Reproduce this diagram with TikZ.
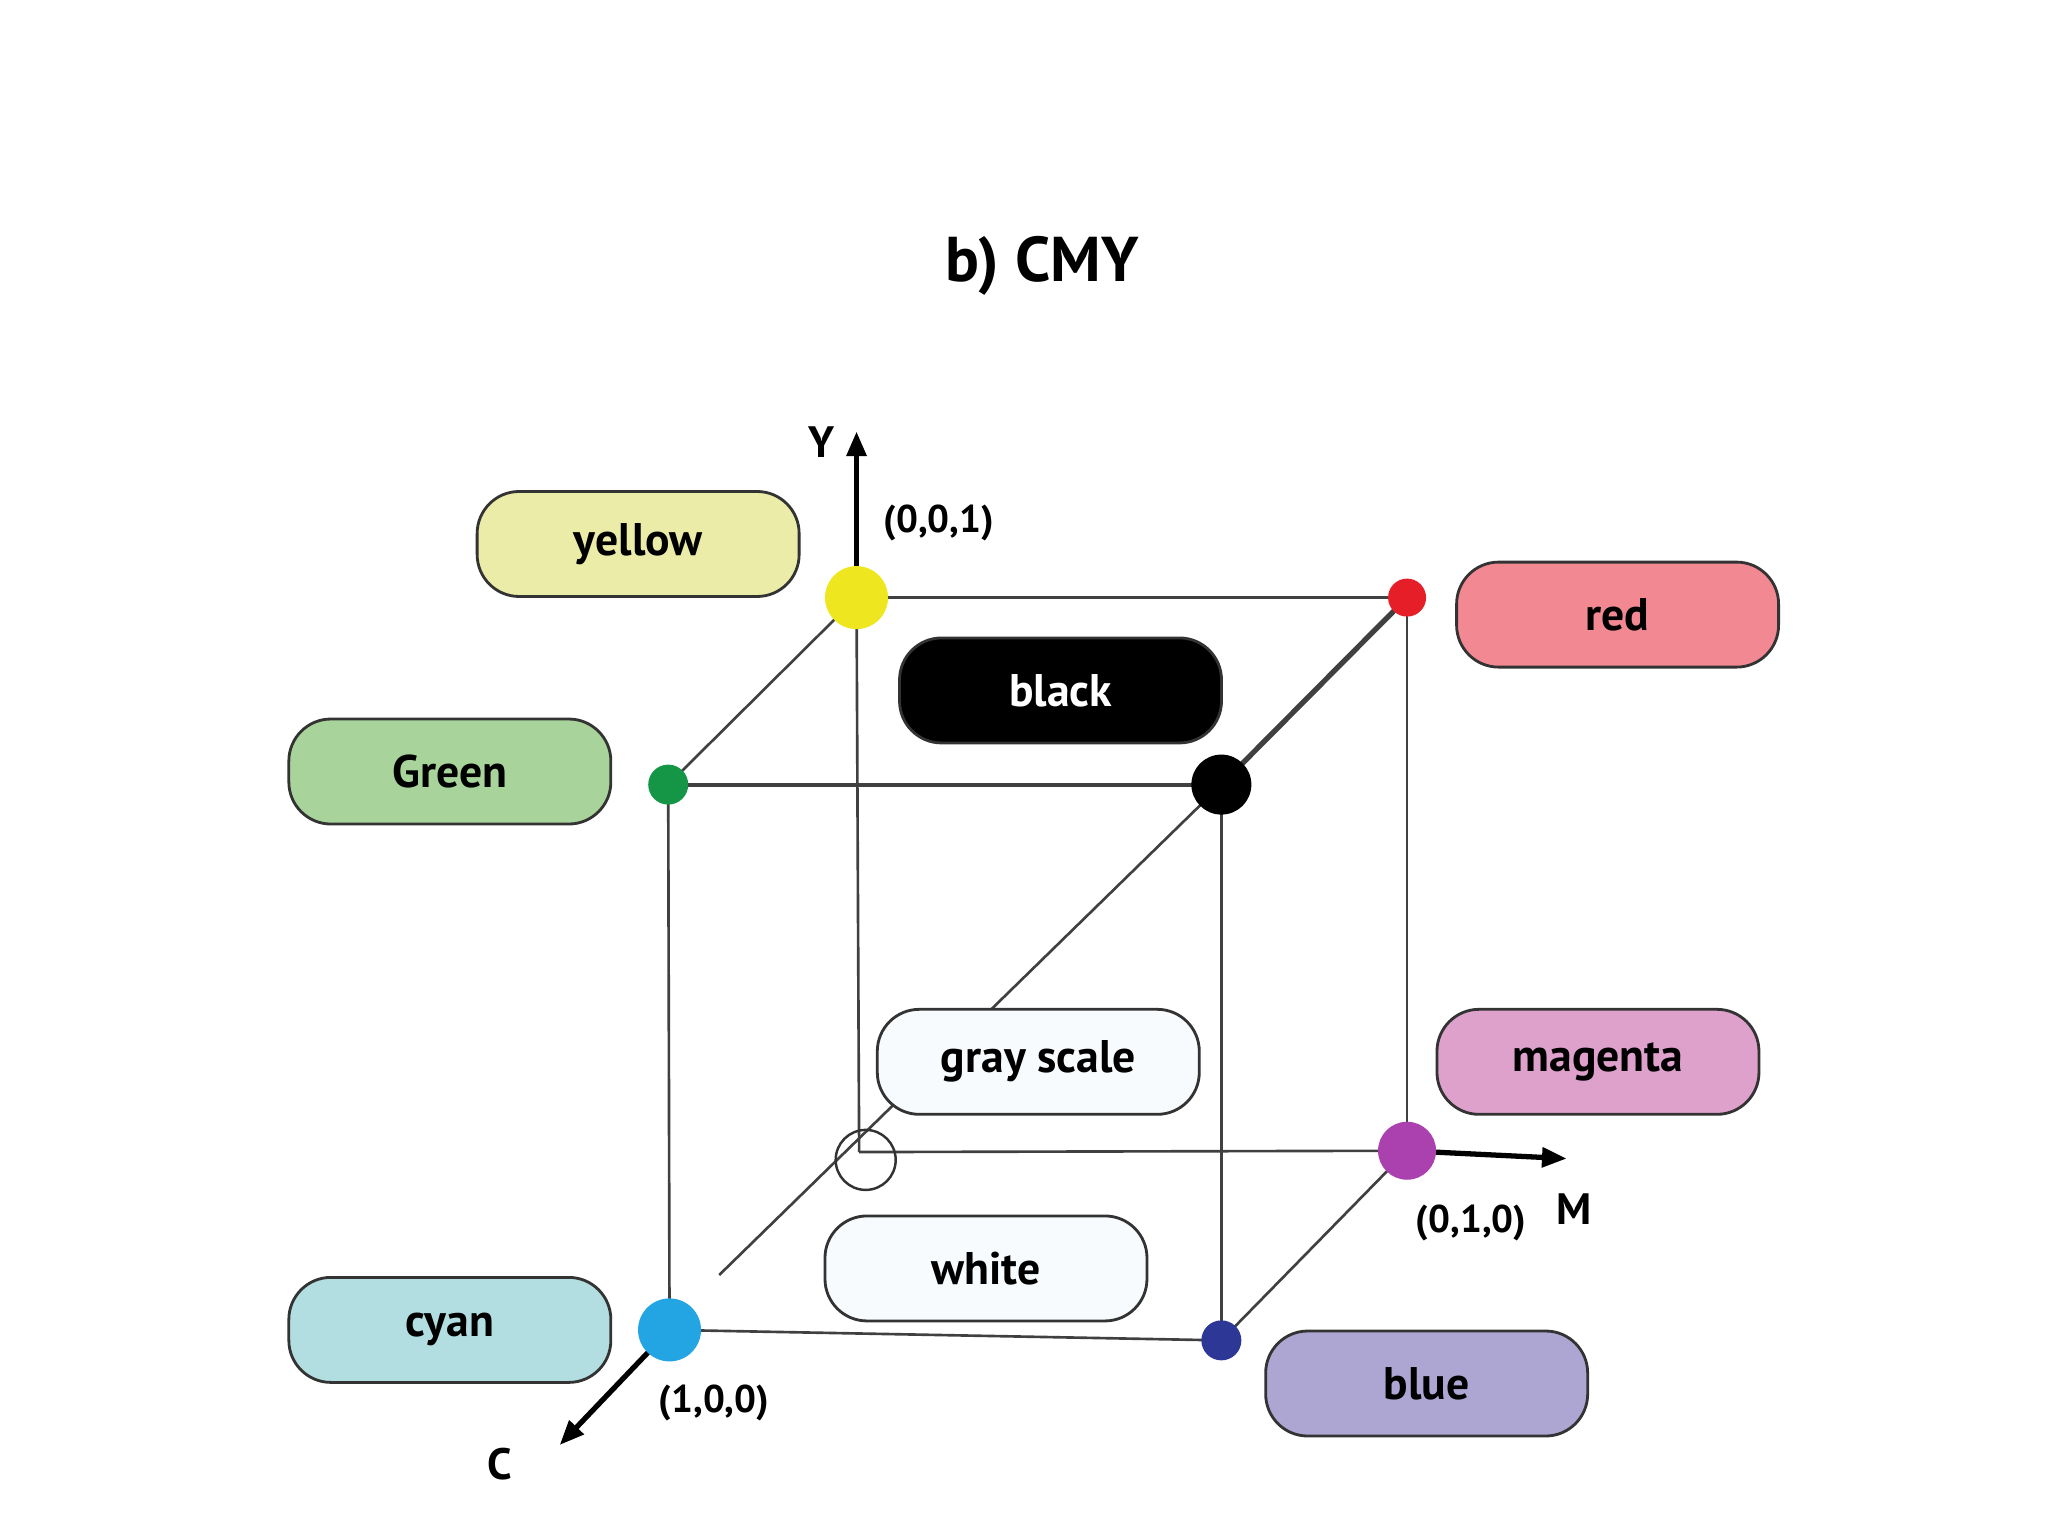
\documentclass[tikz,border=0pt]{standalone}
\usepackage{fontspec}
\setmainfont{PT Sans}
\usetikzlibrary{calc,arrows.meta}

\definecolor{dotyellow}{RGB}{238,230,30}
\definecolor{dotred}{RGB}{230,30,40}
\definecolor{dotgreen}{RGB}{20,150,70}
\definecolor{dotcyan}{RGB}{35,165,228}
\definecolor{dotblue}{RGB}{45,55,150}
\definecolor{dotmagenta}{RGB}{170,65,175}
\definecolor{boxyellow}{RGB}{235,236,168}
\definecolor{boxgreen}{RGB}{168,211,155}
\definecolor{boxred}{RGB}{242,136,146}
\definecolor{boxmagenta}{RGB}{221,161,204}
\definecolor{boxcyan}{RGB}{178,222,225}
\definecolor{boxblue}{RGB}{173,166,211}
\definecolor{boxwhite}{RGB}{247,251,253}

\begin{document}
\begin{tikzpicture}[x=0.01307cm,y=-0.01307cm,
  namebox/.style={draw=black!80,line width=0.8pt,rounded corners=0.42cm,minimum width=3.22cm,minimum height=1.05cm,font=\bfseries\fontsize{13}{15}\selectfont},
  cubeline/.style={draw=black!75,line width=0.75pt},
  axisarrow/.style={line width=1.5pt,-{Triangle[length=7pt,width=5.5pt]}},
  coordtext/.style={font=\bfseries\fontsize{11}{13}\selectfont},
  axistext/.style={font=\bfseries\fontsize{12.5}{15}\selectfont}]

\useasboundingbox (0,0) rectangle (20.48cm,-15.36cm);

\node[font=\bfseries\fontsize{18}{22}\selectfont] (title) at (797,203) {b) CMY};

\coordinate (O) at (657,881);
\coordinate (Yc) at (655,457);
\coordinate (R) at (1076,457);
\coordinate (G) at (511,600);
\coordinate (K) at (934,600);
\coordinate (Cc) at (512,1017);
\coordinate (B) at (934,1025);
\coordinate (Mc) at (1076,880);
\coordinate (Ytip) at (655,330);
\coordinate (Mtip) at (1198,886);
\coordinate (Ctip) at (428,1105);
\coordinate (Oend) at (550,975);

\draw[cubeline] (Yc) -- (R);
\draw[cubeline] (Yc) -- (G);
\draw[cubeline,line width=1.1pt] (G) -- (K);
\draw[cubeline,line width=1.5pt] (R) -- (K);
\draw[cubeline] (G) -- (Cc);
\draw[cubeline] (K) -- (B);
\draw[cubeline] (R) -- (Mc);
\draw[cubeline] (Yc) -- (O);
\draw[cubeline] (O) -- (Mc);
\draw[cubeline] (Cc) -- (B);
\draw[cubeline] (Mc) -- (B);
\draw[cubeline] (K) -- (Oend);

\draw[axisarrow] (Yc) -- (Ytip);
\draw[axisarrow] (Mc) -- (Mtip);
\draw[axisarrow] (Cc) -- (Ctip);

\node[namebox,fill=boxyellow] (yellowbox) at (488,416) {yellow};
\node[namebox,fill=boxgreen] (greenbox) at (344,590) {Green};
\node[namebox,fill=boxred] (redbox) at (1237,470) {red};
\node[namebox,fill=black,text=white] (blackbox) at (811,528) {black};
\node[namebox,fill=boxwhite] (graybox) at (794,812) {gray scale};
\node[namebox,fill=boxmagenta] (magentabox) at (1222,812) {magenta};
\node[namebox,fill=boxwhite] (whitebox) at (754,970) {white};
\node[namebox,fill=boxcyan] (cyanbox) at (344,1017) {cyan};
\node[namebox,fill=boxblue] (bluebox) at (1091,1058) {blue};

\foreach \p/\c/\r in {Yc/dotyellow/0.315,R/dotred/0.19,G/dotgreen/0.2,K/black/0.3,Cc/dotcyan/0.315,B/dotblue/0.2,Mc/dotmagenta/0.29}{
  \fill[\c] (\p) circle (\r cm);
};
\draw[black!80,line width=0.7pt] ($(O)+(5,6)$) circle (0.3cm);

\node[coordtext] (p001) at (718,400) {(0,0,1)};
\node[coordtext] (p010) at (1125,935) {(0,1,0)};
\node[coordtext] (p100) at (546,1073) {(1,0,0)};
\node[axistext] (ylab) at (628,338) {Y};
\node[axistext] (mlab) at (1204,925) {M};
\node[axistext] (clab) at (382,1120) {C};

\end{tikzpicture}
\end{document}
